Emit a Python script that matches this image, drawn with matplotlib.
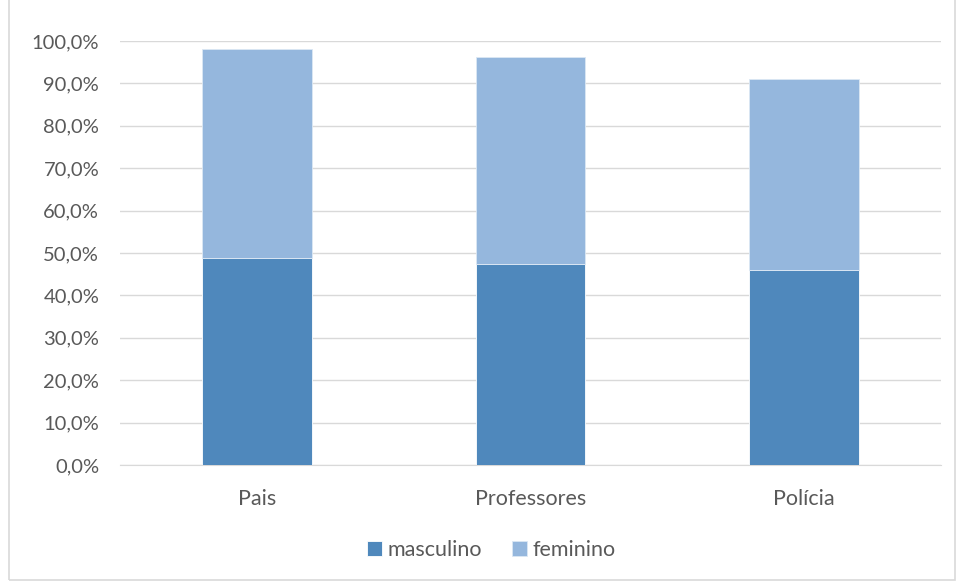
import matplotlib.pyplot as plt
from matplotlib.patches import Rectangle
from matplotlib.ticker import FuncFormatter

categorias = ['Pais', 'Professores', 'Polícia']
masculino = [48.9, 47.5, 46.1]
feminino = [49.3, 48.7, 45.0]

cor_masc = '#4F88BC'
cor_fem = '#95B7DD'
cinza = '#595959'

plt.rcParams['font.family'] = ['Lato', 'DejaVu Sans']

fig = plt.figure(figsize=(9.57, 5.82), dpi=100)
ax = fig.add_axes([0.1254, 0.201, 0.8576, 0.7286])

x = range(len(categorias))
ax.bar(x, masculino, width=0.4, color=cor_masc, edgecolor='#FFFFFF', linewidth=0.6,
       label='masculino', zorder=3)
ax.bar(x, feminino, width=0.4, bottom=masculino, color=cor_fem, edgecolor='#DCE8F4',
       linewidth=0.6, label='feminino', zorder=3)

ax.set_xlim(-0.5, 2.5)
ax.set_ylim(0, 100)
ax.set_yticks(range(0, 101, 10))
ax.yaxis.set_major_formatter(FuncFormatter(lambda v, p: f'{v:.1f}%'.replace('.', ',')))
ax.set_xticks(list(x))
ax.set_xticklabels(categorias)
ax.tick_params(axis='y', length=0, labelsize=14.5, colors=cinza, pad=15)
ax.tick_params(axis='x', length=0, labelsize=15.5, colors=cinza, pad=17)
ax.grid(axis='y', color='#D9D9D9', linewidth=1, zorder=0)
for s in ['top', 'right', 'left']:
    ax.spines[s].set_visible(False)
ax.spines['bottom'].set_color('#D9D9D9')

leg = fig.legend(loc='center', bbox_to_anchor=(0.513, 0.055), ncol=2, frameon=False,
                 fontsize=15.5, handlelength=0.7, handleheight=0.7, handletextpad=0.25,
                 columnspacing=1.4)
for t in leg.get_texts():
    t.set_color(cinza)

# borda do gráfico
fig.patches.append(Rectangle((9 / 957, 2 / 582), 946 / 957, 1.2, transform=fig.transFigure,
                             fill=False, edgecolor='#D9D9D9', linewidth=1.2))

fig.savefig('out.png', dpi=100)
